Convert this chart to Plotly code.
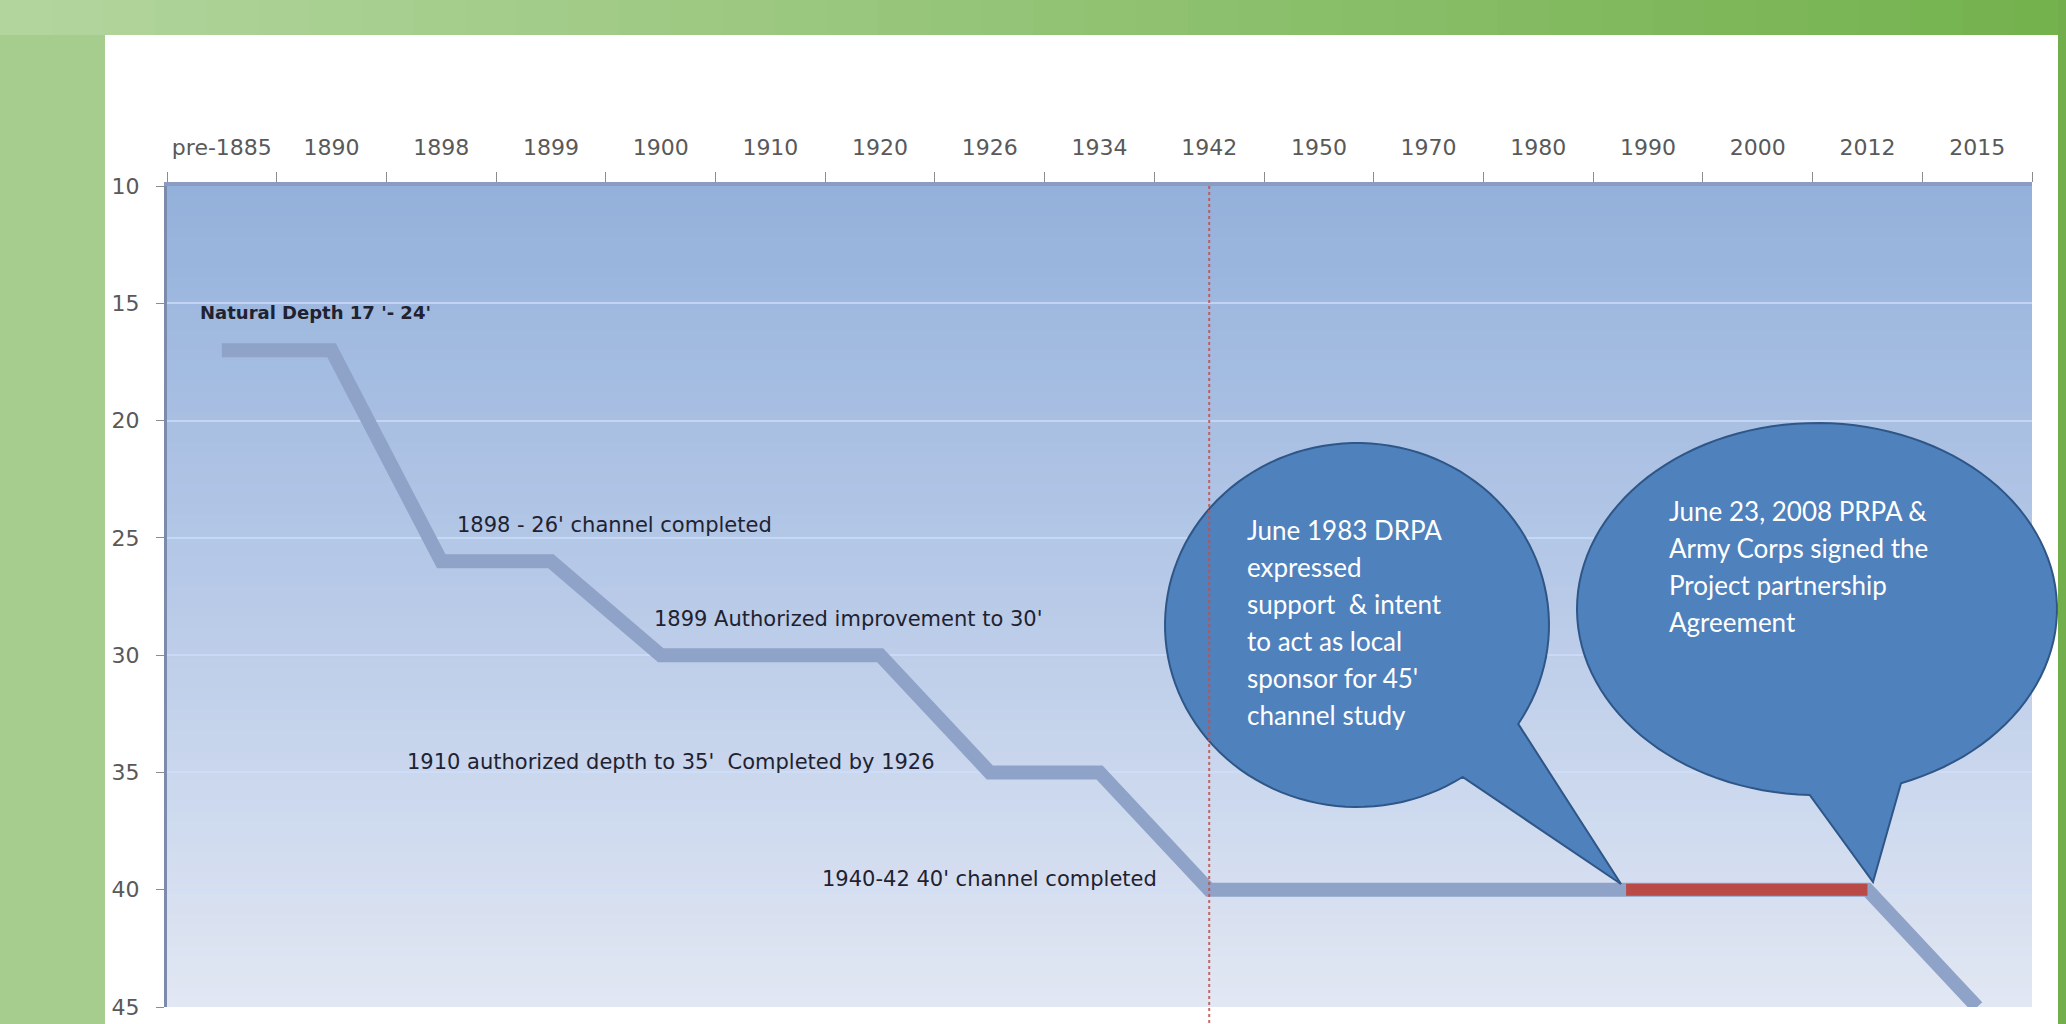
import numpy as np
import plotly.graph_objects as go

# ---------------- data ----------------
categories = ["pre-1885", "1890", "1898", "1899", "1900", "1910", "1920", "1926", "1934",
              "1942", "1950", "1970", "1980", "1990", "2000", "2012", "2015"]
channel_depth_ft = [17, 17, 26, 26, 30, 30, 30, 35, 35, 40, 40, 40, 40, 40, 40, 40, 45]
# 45' channel study / partnership period (June 1983 -> 2012), axis positions
study_period_pos = [12.8, 15]
study_period_depth = [40, 40]
depth_ticks = [10, 15, 20, 25, 30, 35, 40, 45]

note_texts = ["Natural Depth 17 '- 24'",
              "1898 - 26' channel completed",
              "1899 Authorized improvement to 30'",
              "1910 authorized depth to 35'  Completed by 1926",
              "1940-42 40' channel completed"]
callout1_lines = ["June 1983 DRPA", "expressed", "support\u00a0 & intent",
                  "to act as local", "sponsor for 45'", "channel study"]
callout2_lines = ["June 23, 2008 PRPA &", "Army Corps signed the",
                  "Project partnership", "Agreement"]

# ---------------- geometry helpers (pixels -> paper) ----------------
W, H = 2066, 1024
L, R, T, B = 167, 2032, 186, 1007


def px(x):
    return (x - L) / (R - L)


def py(y):
    return (B - y) / (B - T)


def lerp(c1, c2, t):
    return "rgb(%d,%d,%d)" % tuple(round(a + (b - a) * t) for a, b in zip(c1, c2))


shapes = []
# top green band (horizontal gradient)
n = 40
for i in range(n):
    x0 = W * i / n
    x1 = W * (i + 1) / n + 1
    shapes.append(dict(type="rect", xref="paper", yref="paper", layer="below",
                       x0=px(x0), x1=px(x1), y0=py(-5), y1=py(35),
                       fillcolor=lerp((178, 213, 157), (116, 178, 78), i / (n - 1)),
                       line=dict(width=0)))
# right green border
shapes.append(dict(type="rect", xref="paper", yref="paper", layer="below",
                   x0=px(2058), x1=px(W + 5), y0=py(-5), y1=py(H + 10),
                   fillcolor="#72ae4b", line=dict(width=0)))
# white panel
shapes.append(dict(type="rect", xref="paper", yref="paper", layer="below",
                   x0=px(105), x1=px(2058), y0=py(35), y1=py(H + 10),
                   fillcolor="white", line=dict(width=0)))
# plot-area vertical gradient
nb = 80
top_c, mid_c, bot_c = (148, 177, 219), (184, 202, 232), (225, 231, 243)
for i in range(nb):
    t = i / (nb - 1)
    c = lerp(top_c, mid_c, t * 2) if t < 0.5 else lerp(mid_c, bot_c, (t - 0.5) * 2)
    y0 = T + (B - T) * i / nb
    y1 = T + (B - T) * (i + 1) / nb + 1
    shapes.append(dict(type="rect", xref="paper", yref="paper", layer="below",
                       x0=0, x1=1, y0=py(min(y1, B)), y1=py(y0),
                       fillcolor=c, line=dict(width=0)))


def callout_path(cx, cy, rx, ry, base_a, base_b, tip, npts=120):
    def ang(p):
        return np.arctan2((p[1] - cy) / ry, (p[0] - cx) / rx)
    a1, a2 = ang(base_a), ang(base_b)
    start, end = max(a1, a2), min(a1, a2) + 2 * np.pi
    ts = np.linspace(start, end, npts)
    pts = [(cx + rx * np.cos(t), cy + ry * np.sin(t)) for t in ts]
    pts.append(tip)
    d = "M " + " L ".join("%.5f,%.5f" % (px(x), py(y)) for x, y in pts) + " Z"
    return d


callout_fill = "#4f81bd"
callout_line = "#2e5687"
shapes.append(dict(type="path", xref="paper", yref="paper", layer="above",
                   path=callout_path(1357, 625, 192, 182, (1464, 779), (1520, 725), (1621, 884)),
                   fillcolor=callout_fill, line=dict(color=callout_line, width=2)))
shapes.append(dict(type="path", xref="paper", yref="paper", layer="above",
                   path=callout_path(1817, 609, 240, 186, (1810, 787), (1898, 777), (1873, 882)),
                   fillcolor=callout_fill, line=dict(color=callout_line, width=2)))
# dotted marker at 1942
shapes.append(dict(type="line", xref="x", yref="paper", layer="above",
                   x0=categories.index("1942"), x1=categories.index("1942"),
                   y0=1, y1=py(H + 10),
                   line=dict(color="rgba(192,80,77,0.85)", width=2, dash="dot")))

fig = go.Figure()
xs = list(range(len(categories)))
fig.add_trace(go.Scatter(x=xs, y=channel_depth_ft, mode="lines",
                         line=dict(color="#8fa3c8", width=14), hoverinfo="skip",
                         showlegend=False))
fig.add_trace(go.Scatter(x=study_period_pos, y=study_period_depth, mode="lines",
                         line=dict(color="#b94a48", width=12), hoverinfo="skip",
                         showlegend=False))

annotations = []
note_pos = [(198, 312), (455, 525), (652, 619), (405, 762), (820, 879)]
for i, (txt, (x, y)) in enumerate(zip(note_texts, note_pos)):
    annotations.append(dict(xref="paper", yref="paper", x=px(x), y=py(y),
                            xanchor="left", yanchor="middle", showarrow=False,
                            text=("<b>%s</b>" % txt) if i == 0 else txt,
                            font=dict(family="DejaVu Sans", size=18 if i == 0 else 21,
                                      color="#1f2230")))
for j, line in enumerate(callout1_lines):
    annotations.append(dict(xref="paper", yref="paper", x=px(1245), y=py(530 + 37 * j),
                            xanchor="left", yanchor="middle", showarrow=False, text=line,
                            font=dict(family="Lato", size=26, color="white")))
for j, line in enumerate(callout2_lines):
    annotations.append(dict(xref="paper", yref="paper", x=px(1667), y=py(511 + 37 * j),
                            xanchor="left", yanchor="middle", showarrow=False, text=line,
                            font=dict(family="Lato", size=26, color="white")))

fig.update_layout(
    width=W, height=H, autosize=False,
    margin=dict(l=L, r=W - R, t=T, b=H - B, pad=0, autoexpand=False),
    paper_bgcolor="#a6cd8d", plot_bgcolor="rgba(0,0,0,0)",
    shapes=shapes, annotations=annotations, showlegend=False,
    xaxis=dict(range=[-0.5, len(categories) - 0.5], side="top", automargin=False,
               tickmode="array", tickvals=xs, ticktext=categories,
               ticks="", showgrid=False, zeroline=False,
               showline=True, linecolor="#8b9bc1", linewidth=4,
               tickfont=dict(family="DejaVu Sans", size=22, color="#595959"),
               ticklabelstandoff=18,
               minor=dict(tickvals=[i - 0.5 for i in range(len(categories) + 1)],
                          ticks="outside", ticklen=10, tickcolor="#8c8c8c",
                          tickwidth=1, showgrid=False)),
    yaxis=dict(range=[45, 10], tickmode="array", tickvals=depth_ticks, automargin=False,
               ticks="outside", ticklen=8, tickcolor="#8c8c8c", tickwidth=1,
               showgrid=True, gridcolor="rgba(205,222,250,0.75)", gridwidth=2,
               zeroline=False, showline=True, linecolor="#7d8bab", linewidth=3,
               tickfont=dict(family="DejaVu Sans", size=22, color="#595959"),
               ticklabelstandoff=12),
)

fig.write_html("out.html",
               config={"displayModeBar": False},
               post_script="document.body.style.margin='0px';"
                           "document.body.style.overflow='hidden';")
